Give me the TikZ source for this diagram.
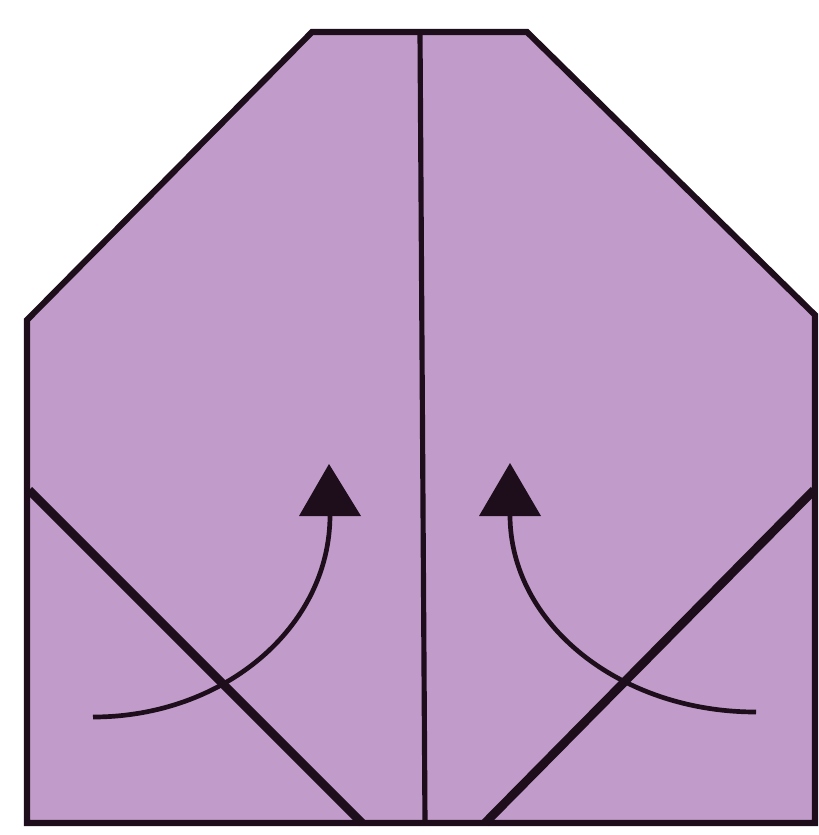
\documentclass[tikz,border=0pt]{standalone}
\definecolor{paper}{RGB}{193,156,202}
\definecolor{ink}{RGB}{30,14,28}
\begin{document}
\begin{tikzpicture}[x=0.03cm,y=-0.03cm,
  outline/.style={draw=ink,line width=5.2pt,line join=miter},
  crease/.style={draw=ink,line width=4.4pt},
  foldline/.style={draw=ink,line width=7.5pt},
  arrowline/.style={draw=ink,line width=4pt},
  tiphead/.style={fill=ink}]
\useasboundingbox (0,0) rectangle (819,835);
\fill[white] (0,0) rectangle (819,835);
% paper
\filldraw[fill=paper,outline] (312,32) -- (527,32) -- (815,315) -- (815,823) -- (27,823) -- (27,320) -- cycle;
% center crease
\coordinate (ct) at (420,32);
\coordinate (cb) at (425,823);
\draw[crease] (ct) -- (cb);
% diagonal fold lines
\coordinate (dl1) at (29,490);
\coordinate (dl2) at (362,823);
\coordinate (dr1) at (485,823);
\coordinate (dr2) at (814,490);
\draw[foldline] (dl1) -- (dl2);
\draw[foldline] (dr1) -- (dr2);
% left arrow
\coordinate (la) at (93,717);
\coordinate (lb) at (330,515);
\draw[arrowline] (la) .. controls (224,717) and (330,627) .. (lb);
\fill[tiphead] (329,464) -- (361,516) -- (299,516) -- cycle;
% right arrow
\coordinate (ra) at (756,712);
\coordinate (rb) at (510,515);
\draw[arrowline] (ra) .. controls (620,712) and (510,624) .. (rb);
\fill[tiphead] (510,463) -- (541,516) -- (479,516) -- cycle;
\end{tikzpicture}
\end{document}
